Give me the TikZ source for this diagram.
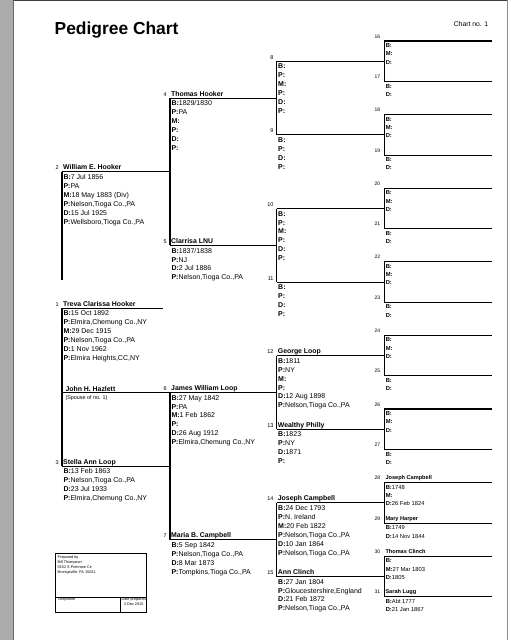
\documentclass[tikz,border=0pt]{standalone}
\usepackage{fontspec}
\setmainfont{Liberation Sans}
\definecolor{pagegray}{RGB}{171,171,171}
\definecolor{edgegray}{RGB}{140,140,140}
\newcommand{\fld}[1]{\textbf{#1:}}

\begin{document}
\begin{tikzpicture}[x=1pt, y=-1pt,
  tree/.style = {line width=1.1pt},
  num/.style = {anchor=base east, inner sep=0pt, xshift=-3pt, yshift=2pt,
    font=\fontsize{5.5}{6}\selectfont},
  who/.style = {anchor=base west, inner sep=0pt, xshift=1pt, yshift=2pt,
    font=\fontsize{6.9}{8}\selectfont\bfseries},
  facts/.style = {anchor=north west, inner sep=0pt, xshift=1.3pt, yshift=-2.6pt,
    align=left, font=\fontsize{7}{8.9}\selectfont},
  num5/.style = {anchor=base east, inner sep=0pt, xshift=-4pt, yshift=3pt,
    font=\fontsize{5}{6}\selectfont},
  who5/.style = {anchor=base west, inner sep=0pt, xshift=1pt, yshift=3pt,
    font=\fontsize{5.6}{6.5}\selectfont\bfseries},
  facts5/.style = {anchor=north west, inner sep=0pt, xshift=1.3pt, yshift=-2.4pt,
    align=left, font=\fontsize{5.8}{8.3}\selectfont},
  tiny/.style = {inner sep=0pt, font=\fontsize{3.8}{5.2}\selectfont}]
\useasboundingbox (0,0) rectangle (511,640);
% page edges
\fill[pagegray] (0,0) rectangle (13.5,640);
\draw[line width=0.8pt, black!60] (13.5,0) -- (13.5,640);
\draw[line width=1pt, black!75] (13.5,0.5) -- (507.5,0.5);
\draw[line width=1pt, edgegray] (507.5,0) -- (507.5,640);

\node[anchor=base west, inner sep=0pt, font=\fontsize{17.4}{20}\selectfont\bfseries]
  (title) at (54.5,34.3) {Pedigree Chart};
\node[anchor=base east, inner sep=0pt, font=\fontsize{6.8}{8}\selectfont]
  (chartno) at (488.3,26) {Chart no. 1};

% line ends
\coordinate (a1) at (62,308.3);    \coordinate (b1) at (162.7,308.3);
\coordinate (c1) at (62,280);
\coordinate (a2) at (62,171.7);    \coordinate (b2) at (170,171.7);
\coordinate (a3) at (62,466.1);    \coordinate (b3) at (170,466.1);
\coordinate (a0) at (62,392.5);    \coordinate (b0) at (170,392.5);
\coordinate (a4) at (170,98.1);    \coordinate (b4) at (276.7,98.1);
\coordinate (a5) at (170,245.3);   \coordinate (b5) at (276.7,245.3);
\coordinate (a6) at (170,392.5);   \coordinate (b6) at (276.7,392.5);
\coordinate (a7) at (170,539.7);   \coordinate (b7) at (276.7,539.7);
\coordinate (a8) at (276.7,61.3);  \coordinate (b8) at (384.3,61.3);
\coordinate (a9) at (276.7,134.9); \coordinate (b9) at (384.3,134.9);
\coordinate (a10) at (276.7,208.5); \coordinate (b10) at (384.3,208.5);
\coordinate (a11) at (276.7,282.1); \coordinate (b11) at (384.3,282.1);
\coordinate (a12) at (276.7,355.7); \coordinate (b12) at (384.3,355.7);
\coordinate (a13) at (276.7,429.3); \coordinate (b13) at (384.3,429.3);
\coordinate (a14) at (276.7,502.9); \coordinate (b14) at (384.3,502.9);
\coordinate (a15) at (276.7,576.5); \coordinate (b15) at (384.3,576.5);
\coordinate (a16) at (384.3,41);    \coordinate (b16) at (491.7,41);
\coordinate (a17) at (384.3,81.5);  \coordinate (b17) at (491.7,81.5);
\coordinate (a18) at (384.3,114.6); \coordinate (b18) at (491.7,114.6);
\coordinate (a19) at (384.3,155.1); \coordinate (b19) at (491.7,155.1);
\coordinate (a20) at (384.3,188.2); \coordinate (b20) at (491.7,188.2);
\coordinate (a21) at (384.3,228.7); \coordinate (b21) at (491.7,228.7);
\coordinate (a22) at (384.3,261.8); \coordinate (b22) at (491.7,261.8);
\coordinate (a23) at (384.3,302.3); \coordinate (b23) at (491.7,302.3);
\coordinate (a24) at (384.3,335.4); \coordinate (b24) at (491.7,335.4);
\coordinate (a25) at (384.3,375.9); \coordinate (b25) at (491.7,375.9);
\coordinate (a26) at (384.3,409.0); \coordinate (b26) at (491.7,409.0);
\coordinate (a27) at (384.3,449.5); \coordinate (b27) at (491.7,449.5);
\coordinate (a28) at (384.3,482.6); \coordinate (b28) at (491.7,482.6);
\coordinate (a29) at (384.3,523.1); \coordinate (b29) at (491.7,523.1);
\coordinate (a30) at (384.3,556.2); \coordinate (b30) at (491.7,556.2);
\coordinate (a31) at (384.3,596.7); \coordinate (b31) at (491.7,596.7);

% lines under the names
\draw[tree] (a1) -- (b1);
\draw[tree] (a2) -- (b2);
\draw[tree] (a3) -- (b3);
\draw[tree] (a0) -- (b0);
\draw[tree] (a4) -- (b4);
\draw[tree] (a5) -- (b5);
\draw[tree] (a6) -- (b6);
\draw[tree] (a7) -- (b7);
\draw[tree] (a8) -- (b8);
\draw[tree] (a9) -- (b9);
\draw[tree] (a10) -- (b10);
\draw[tree] (a11) -- (b11);
\draw[tree] (a12) -- (b12);
\draw[tree] (a13) -- (b13);
\draw[tree] (a14) -- (b14);
\draw[tree] (a15) -- (b15);
\draw[tree] (a16) -- (b16);
\draw[tree] (a17) -- (b17);
\draw[tree] (a18) -- (b18);
\draw[tree] (a19) -- (b19);
\draw[tree] (a20) -- (b20);
\draw[tree] (a21) -- (b21);
\draw[tree] (a22) -- (b22);
\draw[tree] (a23) -- (b23);
\draw[tree] (a24) -- (b24);
\draw[tree] (a25) -- (b25);
\draw[tree] (a26) -- (b26);
\draw[tree] (a27) -- (b27);
\draw[tree] (a28) -- (b28);
\draw[tree] (a29) -- (b29);
\draw[tree] (a30) -- (b30);
\draw[tree] (a31) -- (b31);
% father to mother
\draw[tree] (a2) -- (c1);
\draw[tree] (a1) -- (a3);
\draw[tree] (a4) -- (a5);
\draw[tree] (a6) -- (a7);
\draw[tree] (a8) -- (a9);
\draw[tree] (a10) -- (a11);
\draw[tree] (a12) -- (a13);
\draw[tree] (a14) -- (a15);
\draw[tree] (a16) -- (a17);
\draw[tree] (a18) -- (a19);
\draw[tree] (a20) -- (a21);
\draw[tree] (a22) -- (a23);
\draw[tree] (a24) -- (a25);
\draw[tree] (a26) -- (a27);
\draw[tree] (a28) -- (a29);
\draw[tree] (a30) -- (a31);

% generation 1 and 2
\node[num] (k1) at (a1) {1};
\node[who] (n1) at (a1) {Treva Clarissa Hooker};
\node[facts] (f1) at (a1) {\fld{B}15 Oct 1892\\\fld{P}Elmira,Chemung Co.,NY\\\fld{M}29 Dec 1915\\
  \fld{P}Nelson,Tioga Co.,PA\\\fld{D}1 Nov 1962\\\fld{P}Elmira Heights,CC,NY};
\node[who, xshift=2.3pt, yshift=-0.8pt] (n0) at (a0) {John H. Hazlett};
\node[anchor=base west, inner sep=0pt, font=\fontsize{5.4}{6}\selectfont]
  (spouse) at (65.3,399.2) {(Spouse of no. 1)};
\node[num] (k2) at (a2) {2};
\node[who] (n2) at (a2) {William E. Hooker};
\node[facts] (f2) at (a2) {\fld{B}7 Jul 1856\\\fld{P}PA\\\fld{M}18 May 1883 (Div)\\
  \fld{P}Nelson,Tioga Co.,PA\\\fld{D}15 Jul 1925\\\fld{P}Wellsboro,Tioga Co.,PA};
\node[num] (k3) at (a3) {3};
\node[who] (n3) at (a3) {Stella Ann Loop};
\node[facts] (f3) at (a3) {\fld{B}13 Feb 1863\\\fld{P}Nelson,Tioga Co.,PA\\\fld{D}23 Jul 1933\\
  \fld{P}Elmira,Chemung Co.,NY};

% generation 3
\node[num] (k4) at (a4) {4};
\node[who] (n4) at (a4) {Thomas Hooker};
\node[facts] (f4) at (a4) {\fld{B}1829/1830\\\fld{P}PA\\\fld{M}\\\fld{P}\\\fld{D}\\\fld{P}};
\node[num] (k5) at (a5) {5};
\node[who] (n5) at (a5) {Clarrisa LNU};
\node[facts] (f5) at (a5) {\fld{B}1837/1838\\\fld{P}NJ\\\fld{D}2 Jul 1886\\\fld{P}Nelson,Tioga Co.,PA};
\node[num] (k6) at (a6) {6};
\node[who] (n6) at (a6) {James William Loop};
\node[facts] (f6) at (a6) {\fld{B}27 May 1842\\\fld{P}PA\\\fld{M}1 Feb 1862\\\fld{P}\\
  \fld{D}26 Aug 1912\\\fld{P}Elmira,Chemung Co.,NY};
\node[num] (k7) at (a7) {7};
\node[who] (n7) at (a7) {Maria B. Campbell};
\node[facts] (f7) at (a7) {\fld{B}5 Sep 1842\\\fld{P}Nelson,Tioga Co.,PA\\\fld{D}8 Mar 1873\\
  \fld{P}Tompkins,Tioga Co.,PA};

% generation 4
\node[num] (k8) at (a8) {8};
\node[facts] (f8) at (a8) {\fld{B}\\\fld{P}\\\fld{M}\\\fld{P}\\\fld{D}\\\fld{P}};
\node[num] (k9) at (a9) {9};
\node[facts] (f9) at (a9) {\fld{B}\\\fld{P}\\\fld{D}\\\fld{P}};
\node[num] (k10) at (a10) {10};
\node[facts] (f10) at (a10) {\fld{B}\\\fld{P}\\\fld{M}\\\fld{P}\\\fld{D}\\\fld{P}};
\node[num] (k11) at (a11) {11};
\node[facts] (f11) at (a11) {\fld{B}\\\fld{P}\\\fld{D}\\\fld{P}};
\node[num] (k12) at (a12) {12};
\node[who] (n12) at (a12) {George Loop};
\node[facts] (f12) at (a12) {\fld{B}1811\\\fld{P}NY\\\fld{M}\\\fld{P}\\\fld{D}12 Aug 1898\\
  \fld{P}Nelson,Tioga Co.,PA};
\node[num] (k13) at (a13) {13};
\node[who] (n13) at (a13) {Wealthy Philly};
\node[facts] (f13) at (a13) {\fld{B}1823\\\fld{P}NY\\\fld{D}1871\\\fld{P}};
\node[num] (k14) at (a14) {14};
\node[who] (n14) at (a14) {Joseph Campbell};
\node[facts] (f14) at (a14) {\fld{B}24 Dec 1793\\\fld{P}N. Ireland\\\fld{M}20 Feb 1822\\
  \fld{P}Nelson,Tioga Co.,PA\\\fld{D}10 Jan 1864\\\fld{P}Nelson,Tioga Co.,PA};
\node[num] (k15) at (a15) {15};
\node[who] (n15) at (a15) {Ann Clinch};
\node[facts] (f15) at (a15) {\fld{B}27 Jan 1804\\\fld{P}Gloucestershire,England\\
  \fld{D}21 Feb 1872\\\fld{P}Nelson,Tioga Co.,PA};

% generation 5
\node[num5] (k16) at (a16) {16};
\node[facts5] (f16) at (a16) {\fld{B}\\\fld{M}\\\fld{D}};
\node[num5] (k17) at (a17) {17};
\node[facts5] (f17) at (a17) {\fld{B}\\\fld{D}};
\node[num5] (k18) at (a18) {18};
\node[facts5] (f18) at (a18) {\fld{B}\\\fld{M}\\\fld{D}};
\node[num5] (k19) at (a19) {19};
\node[facts5] (f19) at (a19) {\fld{B}\\\fld{D}};
\node[num5] (k20) at (a20) {20};
\node[facts5] (f20) at (a20) {\fld{B}\\\fld{M}\\\fld{D}};
\node[num5] (k21) at (a21) {21};
\node[facts5] (f21) at (a21) {\fld{B}\\\fld{D}};
\node[num5] (k22) at (a22) {22};
\node[facts5] (f22) at (a22) {\fld{B}\\\fld{M}\\\fld{D}};
\node[num5] (k23) at (a23) {23};
\node[facts5] (f23) at (a23) {\fld{B}\\\fld{D}};
\node[num5] (k24) at (a24) {24};
\node[facts5] (f24) at (a24) {\fld{B}\\\fld{M}\\\fld{D}};
\node[num5] (k25) at (a25) {25};
\node[facts5] (f25) at (a25) {\fld{B}\\\fld{D}};
\node[num5] (k26) at (a26) {26};
\node[facts5] (f26) at (a26) {\fld{B}\\\fld{M}\\\fld{D}};
\node[num5] (k27) at (a27) {27};
\node[facts5] (f27) at (a27) {\fld{B}\\\fld{D}};
\node[num5] (k28) at (a28) {28};
\node[who5] (n28) at (a28) {Joseph Campbell};
\node[facts5] (f28) at (a28) {\fld{B}1748\\\fld{M}\\\fld{D}26 Feb 1824};
\node[num5] (k29) at (a29) {29};
\node[who5] (n29) at (a29) {Mary Harper};
\node[facts5] (f29) at (a29) {\fld{B}1749\\\fld{D}14 Nov 1844};
\node[num5] (k30) at (a30) {30};
\node[who5] (n30) at (a30) {Thomas Clinch};
\node[facts5] (f30) at (a30) {\fld{B}\\\fld{M}27 Mar 1803\\\fld{D}1805};
\node[num5] (k31) at (a31) {31};
\node[who5] (n31) at (a31) {Sarah Lugg};
\node[facts5] (f31) at (a31) {\fld{B}Abt 1777\\\fld{D}21 Jan 1867};

% prepared by
\draw[line width=0.8pt] (55.7,553) rectangle (146.7,612.3);
\draw[line width=0.8pt] (55.7,597.3) -- (146.7,597.3);
\draw[line width=0.8pt] (120.7,597.3) -- (120.7,612.3);
\node[tiny, anchor=north west, align=left] (prep) at (57.5,555.4)
  {Prepared by\\Bill Thompson\\9152 S Primrose Cir\\Bronigsville, PA 15031};
\node[tiny, anchor=north west] (tel) at (57.5,597.6) {Telephone};
\node[tiny, anchor=north, align=center] (date) at (133.7,597.6) {Date prepared\\3 Dec 2015};
\end{tikzpicture}
\end{document}
